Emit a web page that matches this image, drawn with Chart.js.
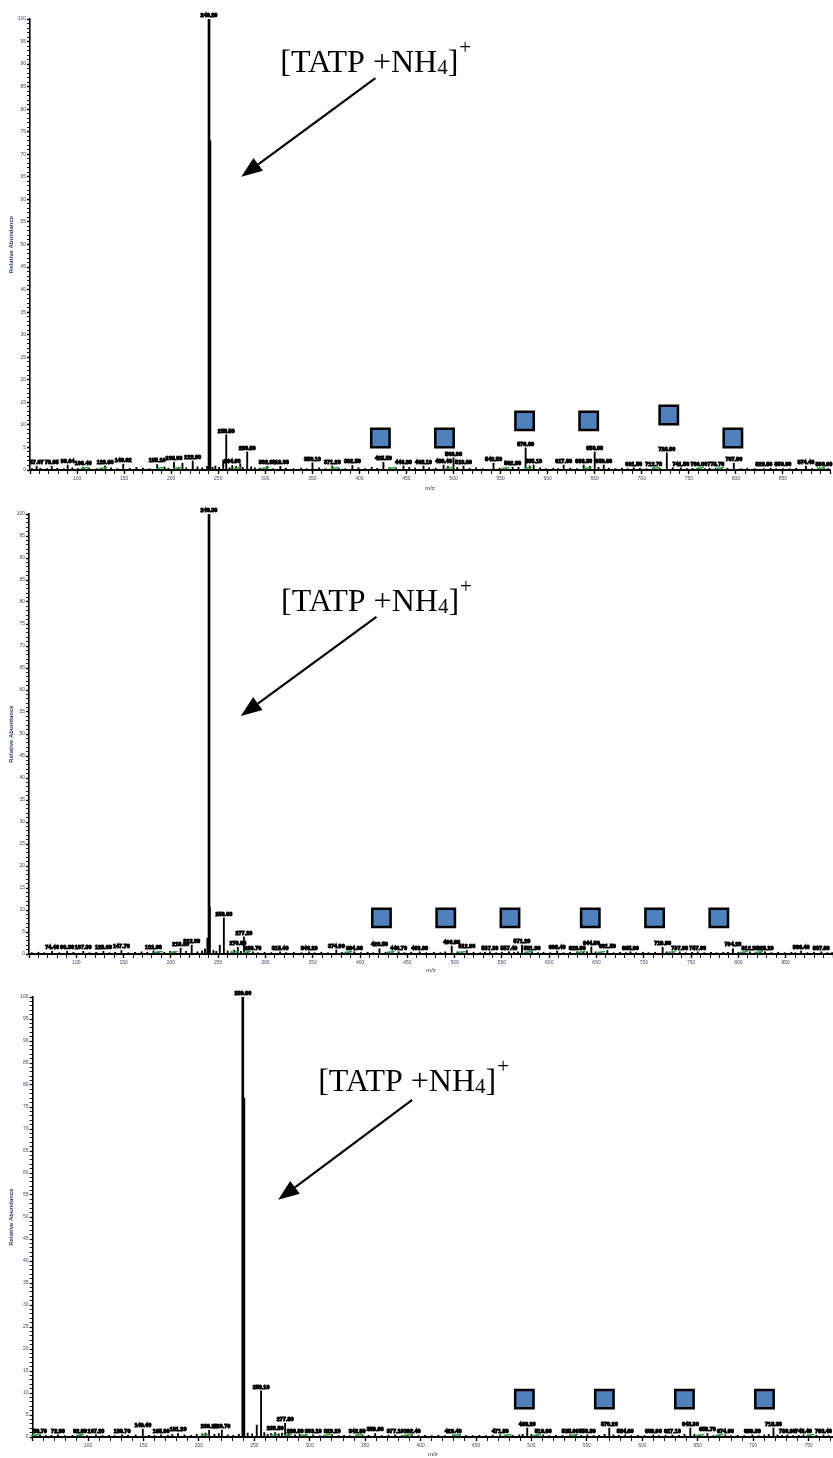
<!DOCTYPE html>
<html>
<head>
<meta charset="utf-8">
<script src="https://cdn.jsdelivr.net/npm/chart.js@4.4.1/dist/chart.umd.min.js"></script>
<style>
  html, body { margin: 0; padding: 0; background: #fff; }
  .panel { position: relative; width: 833px; }
  canvas { display: block; }
</style>
</head>
<body>
<div class="panel" style="height:492px"><canvas id="specA" width="833" height="492"></canvas></div>
<div class="panel" style="height:482px"><canvas id="specB" width="833" height="482"></canvas></div>
<div class="panel" style="height:484px"><canvas id="specC" width="833" height="484"></canvas></div>
<script>
// spectrum A
const mzA = [52.1, 57.07, 61.0, 68.0, 73.05, 79.0, 86.0, 90.04, 95.0, 101.0, 106.4, 113.0, 121.0, 129.8, 136.0, 143.0,
  149.02, 156.0, 163.0, 170.0, 177.0, 185.1, 193.0, 197.0, 203.0, 208.0, 212.0, 216.0, 222.9, 228.0, 233.0, 238.0,
  240.2, 241.2, 244.0, 247.0, 251.0, 255.3, 258.5, 262.0, 264.9, 269.0, 273.4, 276.0, 280.8, 285.0, 289.0, 294.0,
  302.0, 308.0, 316.0, 322.0, 330.0, 338.0, 344.0, 350.1, 357.0, 364.0, 371.2, 378.0, 385.0, 392.5, 399.0, 406.0,
  413.0, 419.0, 425.5, 432.0, 439.0, 446.8, 453.0, 459.0, 468.1, 474.0, 481.0, 489.4, 494.0, 500.0, 504.0, 510.6,
  517.0, 524.0, 531.0, 542.5, 549.0, 556.0, 562.8, 569.0, 576.6, 581.0, 585.1, 592.0, 598.0, 606.0, 611.0, 617.0,
  624.0, 631.0, 638.3, 645.0, 650.0, 654.0, 659.6, 665.0, 672.0, 679.0, 685.0, 691.5, 698.0, 705.0, 712.7, 719.0,
  726.6, 733.0, 741.5, 748.0, 754.0, 760.6, 767.0, 772.0, 778.7, 785.0, 791.0, 797.8, 805.0, 812.0, 820.0, 829.8,
  837.0, 843.0, 850.0, 857.0, 864.0, 874.4, 881.0, 887.0, 893.6, 898.0];
const abA = [0.3, 0.8, 0.4, 0.3, 0.8, 0.4, 0.3, 1.1, 0.5, 0.3, 0.6, 0.4, 0.3, 0.9, 0.5, 0.3,
  1.3, 0.4, 0.6, 0.4, 0.3, 1.2, 0.7, 0.4, 1.7, 0.6, 1.5, 0.5, 2.0, 0.7, 0.5, 0.8,
  100, 73, 0.6, 0.9, 0.6, 2.2, 7.8, 0.5, 1.0, 0.8, 1.4, 0.6, 4.0, 0.7, 0.5, 0.4,
  0.8, 0.3, 0.8, 0.4, 0.3, 0.4, 0.3, 1.6, 0.5, 0.3, 0.9, 0.4, 0.3, 1.0, 0.5, 0.3,
  0.6, 0.4, 1.7, 0.5, 0.4, 0.9, 0.6, 0.4, 0.9, 0.5, 0.4, 1.1, 0.8, 2.7, 0.6, 0.9,
  0.4, 0.5, 0.3, 1.5, 0.4, 0.3, 0.6, 0.6, 4.9, 0.9, 1.1, 0.5, 0.3, 0.4, 0.3, 1.1,
  0.4, 0.3, 1.1, 0.8, 4.0, 0.6, 1.1, 0.4, 0.3, 0.4, 0.3, 0.5, 0.4, 0.3, 0.5, 0.4,
  3.8, 0.5, 0.5, 0.3, 0.4, 0.4, 0.3, 0.4, 0.4, 0.3, 0.4, 1.5, 0.3, 0.4, 0.3, 0.3,
  0.4, 0.3, 0.3, 0.3, 0.4, 0.8, 0.3, 0.4, 0.3, 0.3];
const labA = [57.07, 73.05, 90.04, 106.4, 129.8, 149.02, 185.1, 203.0, 222.9, 240.2, 258.5, 264.9, 280.8, 302.0,
  316.0, 350.1, 371.2, 392.5, 425.5, 446.8, 468.1, 489.4, 500.0, 510.6, 542.5, 562.8, 576.6, 585.1, 617.0, 638.3,
  650.0, 659.6, 691.5, 712.7, 726.6, 741.5, 760.6, 778.7, 797.8, 829.8, 850.0, 874.4, 893.6];
const leadA = [111.7, 130.9, 191.5, 209.6, 273.4, 303.2, 376.6, 438.3, 498.9, 558.5, 582.0, 645.7, 718.0, 764.9,
  786.0, 893.6];
const boxMzA = [422.3, 490.4, 575.5, 643.6, 728.7, 796.8];
const boxAbA = [7.1, 7.1, 10.9, 10.9, 12.2, 7.1];

// spectrum B
const mzB = [53, 60, 66, 74.4, 82, 90.3, 97, 107.3, 114, 121, 128.6, 135, 141, 147.7, 155, 162, 169, 175, 181.6,
  187, 193, 199, 204, 210.3, 216, 222.0, 228, 233, 236, 238.6, 240.3, 241.2, 245, 248, 251.7, 256.0, 260, 264, 267,
  270.8, 274, 277.2, 281, 286.7, 292, 299, 306, 315.4, 322, 330, 338, 346.2, 352, 359, 366, 374.9, 381, 388, 394.0,
  401, 408, 414, 420.5, 427, 434, 440.7, 447, 454, 463.0, 470, 478, 485, 490, 496.9, 503, 508, 512.9, 520, 527,
  532, 537.3, 544, 550, 557.4, 563, 567, 571.2, 576, 581.9, 588, 594, 601, 608.4, 615, 622, 629.6, 636, 640, 644.5,
  649, 655, 661.5, 668, 675, 681, 685.9, 692, 699, 705, 712, 719.9, 724, 731, 737.9, 744, 751, 757.0, 764, 771, 777,
  784, 789, 794.2, 800, 806, 812.2, 818, 823, 828.2, 835, 842, 849, 856, 860, 866.4, 873, 880, 887.6, 894, 899];
const abB = [0.3, 0.4, 0.3, 0.6, 0.3, 0.6, 0.4, 0.6, 0.3, 0.4, 0.6, 0.3, 0.4, 0.8, 0.3, 0.4, 0.5, 0.4, 0.7,
  0.5, 0.4, 0.6, 0.5, 1.3, 0.6, 2.0, 0.5, 0.7, 1.2, 3.6, 100, 10.7, 0.8, 0.6, 2.0, 8.2, 0.7, 0.5, 0.9,
  1.5, 0.6, 3.9, 0.5, 0.5, 0.3, 0.4, 0.3, 0.5, 0.3, 0.4, 0.3, 0.5, 0.3, 0.4, 0.3, 0.9, 0.4, 0.3, 0.5,
  0.3, 0.4, 0.3, 1.2, 0.4, 0.3, 0.5, 0.3, 0.4, 0.5, 0.3, 0.4, 0.3, 0.5, 1.8, 0.5, 0.3, 0.8, 0.4, 0.3,
  0.4, 0.5, 0.3, 0.4, 0.5, 0.4, 0.5, 2.0, 0.4, 0.5, 0.3, 0.4, 0.3, 0.7, 0.3, 0.4, 0.5, 0.4, 0.5, 1.6,
  0.5, 0.3, 0.8, 0.3, 0.4, 0.3, 0.5, 0.3, 0.4, 0.3, 0.4, 1.5, 0.5, 0.3, 0.5, 0.3, 0.4, 0.5, 0.3, 0.4, 0.3,
  0.4, 0.4, 1.2, 0.4, 0.3, 0.5, 0.3, 0.4, 0.5, 0.3, 0.4, 0.3, 0.4, 0.3, 0.7, 0.3, 0.4, 0.5, 0.3, 0.3];
const labB = [74.4, 90.3, 107.3, 128.6, 147.7, 181.6, 210.3, 222.0, 240.3, 256.0, 270.8, 277.2, 286.7, 315.4, 346.2,
  374.9, 394.0, 420.5, 440.7, 463.0, 496.9, 512.9, 537.3, 557.4, 571.2, 581.9, 608.4, 629.6, 644.5, 661.5, 685.9,
  719.9, 737.9, 757.0, 794.2, 812.2, 828.2, 866.4, 887.6];
const leadB = [190.1, 206.0, 270.8, 283.6, 390.8, 435.4, 510.7, 580.8, 637.1, 658.3, 732.6, 809.0, 825.0];
const boxMzB = [422.6, 490.6, 558.5, 643.4, 711.4, 779.3];
const boxAbB = [8.2, 8.2, 8.2, 8.2, 8.2, 8.2];

// spectrum C
const mzC = [53, 56.7, 62, 67, 72.9, 79, 86, 92.8, 99, 107.2, 113, 119, 124, 130.7, 136, 143, 149.4, 155, 160, 165.9,
  172, 176, 181.2, 187, 193, 198, 203, 206, 209.2, 214, 218, 220.7, 226, 231, 236, 239.6, 240.6, 244, 248, 252.2,
  256.1, 259, 262, 265, 268.8, 272, 275, 277.8, 281, 286.8, 291, 296, 303.1, 309, 314, 320.2, 326, 331, 336, 342.8,
  348, 353, 359.0, 365, 371, 377.1, 383, 388, 392.4, 398, 404, 410, 416, 422, 429.4, 435, 441, 447, 453, 459, 465,
  471.8, 477, 483, 489, 492, 496.2, 500, 505, 510.6, 516, 522, 528, 535.0, 540, 545, 550.3, 556, 561, 566, 570.2,
  574, 579, 584.6, 590, 596, 602, 609.9, 615, 621, 627.1, 633, 638, 643.3, 647, 652, 658.7, 664, 669, 674.9, 680,
  686, 692, 699.3, 705, 710, 714, 718.3, 722, 726, 730.9, 736, 741, 745.4, 751, 757, 763.4, 768];
const abC = [0.3, 0.5, 0.3, 0.4, 0.5, 0.3, 0.4, 0.5, 0.3, 0.5, 0.3, 0.4, 0.3, 0.5, 0.4, 0.5, 1.8, 0.4, 0.3, 0.5,
  0.4, 0.6, 0.8, 0.5, 0.4, 0.6, 0.7, 0.9, 1.5, 0.6, 0.8, 1.6, 0.5, 0.4, 0.6, 100, 77, 0.9, 0.7, 2.7,
  10.5, 1.0, 0.6, 0.8, 1.0, 0.7, 0.9, 3.1, 0.8, 0.5, 0.6, 0.4, 0.5, 0.3, 0.4, 0.5, 0.3, 0.4, 0.3, 0.5,
  0.3, 0.4, 0.8, 0.3, 0.4, 0.5, 0.3, 0.4, 0.5, 0.3, 0.4, 0.3, 0.4, 0.3, 0.5, 0.3, 0.4, 0.3, 0.4, 0.3, 0.4,
  0.5, 0.3, 0.4, 0.5, 0.6, 2.0, 0.6, 0.4, 0.5, 0.3, 0.4, 0.3, 0.5, 0.3, 0.4, 0.5, 0.3, 0.4, 0.6, 2.0,
  0.5, 0.4, 0.5, 0.3, 0.4, 0.3, 0.5, 0.3, 0.4, 0.5, 0.4, 0.6, 2.0, 0.6, 0.4, 0.8, 0.3, 0.4, 0.5, 0.3,
  0.4, 0.3, 0.5, 0.3, 0.5, 0.6, 2.0, 0.5, 0.4, 0.5, 0.3, 0.4, 0.5, 0.3, 0.4, 0.5, 0.3];
const labC = [56.7, 72.9, 92.8, 107.2, 130.7, 149.4, 165.9, 181.2, 209.2, 220.7, 239.6, 256.1, 268.8, 277.8, 286.8,
  303.1, 320.2, 342.8, 359.0, 377.1, 392.4, 429.4, 471.8, 496.2, 510.6, 535.0, 550.3, 570.2, 584.6, 609.9, 627.1,
  643.3, 658.7, 674.9, 699.3, 718.3, 730.9, 745.4, 763.4];
const leadC = [54.9, 95.5, 208.3, 270.6, 283.2, 297.6, 318.4, 347.3, 390.6, 435.7, 481.2, 507.9, 541.1, 655.0,
  672.2, 754.3];
const boxMzC = [493.6, 565.8, 638.0, 710.2];
const boxAbC = [8.6, 8.6, 8.6, 8.6];

const SERIF = '"Liberation Serif", "Times New Roman", serif';

// "[TATP +NH4]+" with the 4 lowered and the + raised
function drawTag(c, x, y) {
  c.fillStyle = '#000';
  c.textAlign = 'left';
  c.textBaseline = 'alphabetic';
  c.font = '32px ' + SERIF;
  c.fillText('[TATP +NH', x, y);
  x += c.measureText('[TATP +NH').width;
  c.font = '21px ' + SERIF;
  c.fillText('4', x, y + 2);
  x += c.measureText('4').width;
  c.font = '32px ' + SERIF;
  c.fillText(']', x, y);
  x += c.measureText(']').width;
  c.font = '21px ' + SERIF;
  c.fillText('+', x + 1, y - 18);
}

function drawArrow(c, x0, y0, x1, y1) {
  const a = Math.atan2(y1 - y0, x1 - x0), L = 21, W = 8;
  const bx = x1 - L * Math.cos(a), by = y1 - L * Math.sin(a);
  c.strokeStyle = '#000';
  c.fillStyle = '#000';
  c.lineWidth = 2.2;
  c.beginPath(); c.moveTo(x0, y0); c.lineTo(bx, by); c.stroke();
  c.beginPath();
  c.moveTo(x1, y1);
  c.lineTo(bx + W * Math.sin(a), by - W * Math.cos(a));
  c.lineTo(bx - W * Math.sin(a), by + W * Math.cos(a));
  c.closePath();
  c.fill();
}

function stepTicks(lo, hi, step) {
  const out = [];
  for (let v = lo; v <= hi + 1e-9; v += step) out.push({ value: v });
  return out;
}

function buildPanel(id, p) {
  const thick = [], thin = [];
  p.mz.forEach((m, i) => (p.ab[i] > 20 ? thick : thin).push({ x: m, y: p.ab[i] }));
  const boxes = p.boxMz.map((m, i) => ({ x: m, y: p.boxAb[i] }));

  const decor = {
    id: 'decor',
    afterDatasetsDraw(chart) {
      const c = chart.ctx, xs = chart.scales.x, ys = chart.scales.y;
      c.save();
      // green label leaders sitting on the baseline
      const base = ys.getPixelForValue(0);
      c.strokeStyle = '#27a33a';
      c.lineWidth = 1.4;
      p.leads.forEach(m => {
        const x = xs.getPixelForValue(m);
        c.beginPath();
        c.moveTo(x - 7, base - 1.5);
        c.lineTo(x + 1, base - 2.5);
        c.stroke();
      });
      // peak m/z labels
      c.font = 'bold 5.5px "Liberation Sans", Arial, sans-serif';
      c.textAlign = 'center';
      c.textBaseline = 'bottom';
      c.fillStyle = '#000';
      c.strokeStyle = '#000';
      c.lineWidth = 1;
      p.labels.forEach(m => {
        const i = p.mz.indexOf(m);
        const x = xs.getPixelForValue(m);
        const y = ys.getPixelForValue(p.ab[i]) - 1;
        const t = m.toFixed(2);
        c.strokeText(t, x, y);
        c.fillText(t, x, y);
      });
      c.restore();
    },
    afterDraw(chart) {
      const c = chart.ctx, xs = chart.scales.x, ys = chart.scales.y;
      const px = (m, v) => [xs.getPixelForValue(m), ys.getPixelForValue(v)];
      c.save();
      const [tx, ty] = px(p.note.text[0], p.note.text[1]);
      drawTag(c, tx, ty);
      const [ax, ay] = px(p.note.tail[0], p.note.tail[1]);
      const [bx, by] = px(p.note.tip[0], p.note.tip[1]);
      drawArrow(c, ax, ay, bx, by);
      c.restore();
    }
  };

  return new Chart(document.getElementById(id), {
    type: 'bar',
    data: {
      datasets: [
        { data: thick, backgroundColor: '#000', borderWidth: 0, barThickness: 2, grouped: false },
        { data: thin, backgroundColor: '#000', borderWidth: 0, barThickness: 1.2, grouped: false },
        {
          type: 'scatter', data: boxes, pointStyle: 'rect', pointRadius: 13,
          backgroundColor: '#4f81bd', borderColor: '#000', borderWidth: 2.5
        }
      ]
    },
    options: {
      responsive: false,
      animation: false,
      events: [],
      layout: { autoPadding: false, padding: { top: p.top, left: 8, right: p.right, bottom: 0 } },
      plugins: { legend: { display: false }, tooltip: { enabled: false } },
      scales: {
        x: {
          type: 'linear', min: p.min, max: p.max, offset: false,
          afterBuildTicks: s => { s.ticks = stepTicks(p.min, p.max, 10); },
          afterFit: s => { s.height = p.xh; s.paddingLeft = 0; s.paddingRight = 0; },
          grid: {
            drawOnChartArea: false, drawTicks: true, tickLength: 4, color: '#000', offset: false,
            tickWidth: c => (c.tick && c.tick.value % 50 === 0 ? 1.4 : 0.9)
          },
          border: { color: '#000', width: 2 },
          ticks: {
            autoSkip: false, maxRotation: 0, minRotation: 0, padding: 2, color: '#3b4a6b',
            font: { size: 5, family: 'Arial' },
            callback: v => (v % 50 === 0 && v > p.min && v < p.max ? String(v) : '')
          },
          title: { display: true, text: 'm/z', color: '#333', font: { size: 6, family: 'Arial' }, padding: 0 }
        },
        y: {
          min: 0, max: 100,
          afterBuildTicks: s => { s.ticks = stepTicks(0, 100, 1); },
          afterFit: s => { s.width = p.yw; s.paddingTop = 0; s.paddingBottom = 0; },
          grid: {
            drawOnChartArea: false, drawTicks: true, tickLength: 3, color: '#000',
            tickWidth: c => (c.tick && c.tick.value % 5 === 0 ? 1.3 : 0.9)
          },
          border: { color: '#000', width: 1.6 },
          ticks: {
            autoSkip: false, padding: 1, color: '#3b4a6b',
            font: { size: 5, family: 'Arial' },
            callback: v => (v % 5 === 0 ? String(v) : '')
          },
          title: { display: true, text: 'Relative Abundance', color: '#2e3d5c', font: { size: 6, family: 'Arial', weight: 'bold' }, padding: 0 }
        }
      }
    },
    plugins: [decor]
  });
}

buildPanel('specA', {
  mz: mzA, ab: abA, labels: labA, leads: leadA, boxMz: boxMzA, boxAb: boxAbA,
  min: 50, max: 900, top: 19, right: 3, yw: 22, xh: 22,
  note: { text: [316, 88.2], tail: [417, 86.9], tip: [274.5, 65.0] }
});
buildPanel('specB', {
  mz: mzB, ab: abB, labels: labB, leads: leadB, boxMz: boxMzB, boxAb: boxAbB,
  min: 50, max: 900, top: 22, right: 0, yw: 21, xh: 20,
  note: { text: [316.5, 78.0], tail: [417.3, 76.6], tip: [274, 54.1] }
});
buildPanel('specC', {
  mz: mzC, ab: abC, labels: labC, leads: leadC, boxMz: boxMzC, boxAb: boxAbC,
  min: 50, max: 772, top: 23, right: 0, yw: 24.6, xh: 21,
  note: { text: [307.6, 78.6], tail: [392.4, 76.6], tip: [271.5, 53.9] }
});
</script>
</body>
</html>
